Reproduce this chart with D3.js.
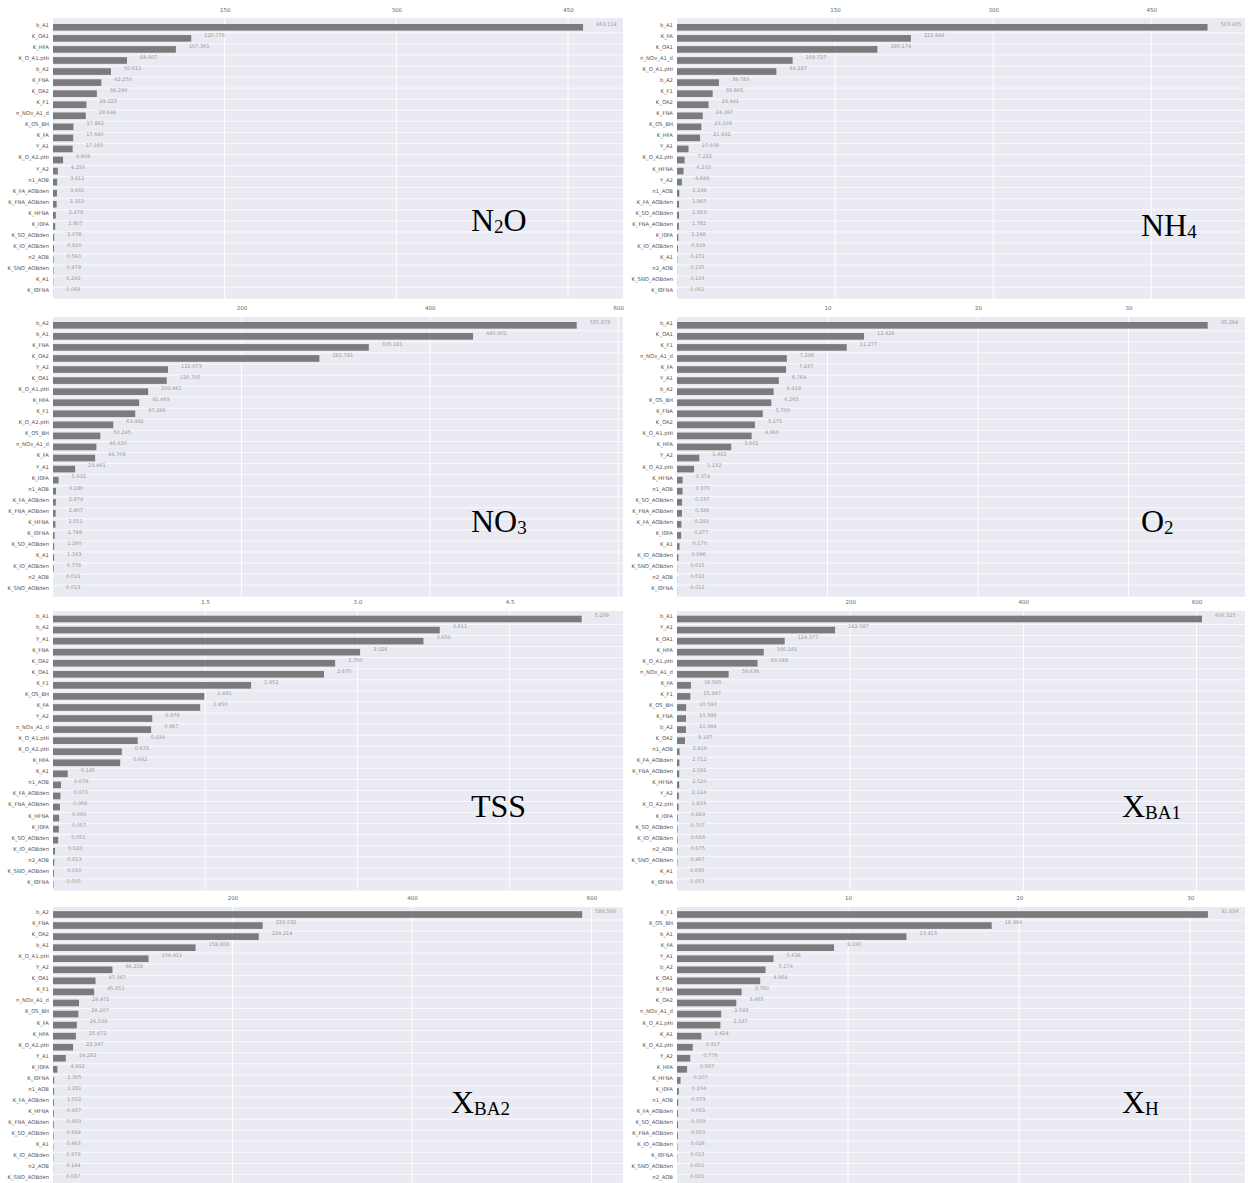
<!DOCTYPE html>
<html>
<head>
<meta charset="utf-8">
<script src="https://cdn.jsdelivr.net/npm/d3@7"></script>
<style>
  html, body { margin: 0; padding: 0; background: #ffffff; }
  svg { display: block; }
</style>
</head>
<body>
<svg id="chart" width="1249" height="1183"></svg>
<script>
// ---- Sensitivity indices per model output (sorted, largest first) ----
const n2oParams = ["b_A1","K_OA1","K_HFA","K_O_A1.pHi","b_A2","K_FNA","K_OA2","K_F1","n_NOx_A1_d","K_OS_BH","K_FA","Y_A1","K_O_A2.pHi","Y_A2","n1_AOB","K_FA_AOBden","K_FNA_AOBden","K_HFNA","K_I0FA","K_SO_AOBden","K_IO_AOBden","n2_AOB","K_SNO_AOBden","K_A1","K_I0FNA"];
const n2oValues = [463.114,120.776,107.361,64.607,50.611,42.250,38.290,29.223,28.644,17.862,17.640,17.160,8.808,4.250,3.611,3.431,3.163,2.478,1.907,1.078,0.920,0.560,0.479,0.292,0.068];
const n2oTicks = [150, 300, 450];

const nh4Params = ["b_A1","K_FA","K_OA1","n_NOx_A1_d","K_O_A1.pHi","b_A2","K_F1","K_OA2","K_FNA","K_OS_BH","K_HFA","Y_A1","K_O_A2.pHi","K_HFNA","Y_A2","n1_AOB","K_FA_AOBden","K_SO_AOBden","K_FNA_AOBden","K_I0FA","K_IO_AOBden","K_A1","n2_AOB","K_SNO_AOBden","K_I0FNA"];
const nh4Values = [503.435,221.944,190.174,109.727,94.297,39.783,33.865,29.941,24.397,23.109,21.932,10.939,7.222,6.233,4.649,2.198,1.965,1.953,1.782,1.248,0.919,0.272,0.135,0.133,0.061];
const nh4Ticks = [150, 300, 450];

const no3Params = ["b_A2","b_A1","K_FNA","K_OA2","Y_A2","K_OA1","K_O_A1.pHi","K_HFA","K_F1","K_O_A2.pHi","K_OS_BH","n_NOx_A1_d","K_FA","Y_A1","K_I0FA","n1_AOB","K_FA_AOBden","K_FNA_AOBden","K_HFNA","K_I0FNA","K_SO_AOBden","K_A1","K_IO_AOBden","n2_AOB","K_SNO_AOBden"];
const no3Values = [555.878,445.901,335.181,282.781,122.073,120.705,100.961,91.469,87.296,63.992,50.245,46.020,44.709,23.461,5.932,3.180,2.974,2.807,2.551,1.749,1.260,1.163,0.778,0.019,0.013];
const no3Ticks = [200, 400, 600];

const o2Params = ["b_A1","K_OA1","K_F1","n_NOx_A1_d","K_FA","Y_A1","b_A2","K_OS_BH","K_FNA","K_OA2","K_O_A1.pHi","K_HFA","Y_A2","K_O_A2.pHi","K_HFNA","n1_AOB","K_SO_AOBden","K_FNA_AOBden","K_FA_AOBden","K_I0FA","K_A1","K_IO_AOBden","K_SNO_AOBden","n2_AOB","K_I0FNA"];
const o2Values = [35.264,12.428,11.277,7.298,7.247,6.764,6.419,6.265,5.700,5.175,4.960,3.602,1.482,1.132,0.374,0.370,0.337,0.326,0.293,0.277,0.170,0.096,0.015,0.013,0.012];
const o2Ticks = [10, 20, 30];

const tssParams = ["b_A1","b_A2","Y_A1","K_FNA","K_OA2","K_OA1","K_F1","K_OS_BH","K_FA","Y_A2","n_NOx_A1_d","K_O_A1.pHi","K_O_A2.pHi","K_HFA","K_A1","n1_AOB","K_FA_AOBden","K_FNA_AOBden","K_HFNA","K_I0FA","K_SO_AOBden","K_IO_AOBden","n2_AOB","K_SNO_AOBden","K_I0FNA"];
const tssValues = [5.209,3.811,3.650,3.026,2.780,2.670,1.952,1.491,1.450,0.978,0.967,0.834,0.678,0.662,0.145,0.079,0.073,0.068,0.060,0.057,0.051,0.020,0.013,0.010,0.005];
const tssTicks = [1.5, 3.0, 4.5];

const xba1Params = ["b_A1","Y_A1","K_OA1","K_HFA","K_O_A1.pHi","n_NOx_A1_d","K_FA","K_F1","K_OS_BH","K_FNA","b_A2","K_OA2","n1_AOB","K_FA_AOBden","K_FNA_AOBden","K_HFNA","Y_A2","K_O_A2.pHi","K_I0FA","K_SO_AOBden","K_IO_AOBden","n2_AOB","K_SNO_AOBden","K_A1","K_I0FNA"];
const xba1Values = [606.325,182.587,124.377,100.181,93.048,59.636,16.095,15.387,10.593,10.398,10.344,9.187,2.916,2.712,2.581,2.520,2.124,1.833,0.889,0.707,0.693,0.675,0.467,0.095,0.053];
const xba1Ticks = [200, 400, 600];

const xba2Params = ["b_A2","K_FNA","K_OA2","b_A1","K_O_A1.pHi","Y_A2","K_OA1","K_F1","n_NOx_A1_d","K_OS_BH","K_FA","K_HFA","K_O_A2.pHi","Y_A1","K_I0FA","K_I0FNA","n1_AOB","K_FA_AOBden","K_HFNA","K_FNA_AOBden","K_SO_AOBden","K_A1","K_IO_AOBden","n2_AOB","K_SNO_AOBden"];
const xba2Values = [589.560,233.532,229.214,158.808,106.411,66.218,47.367,45.851,28.972,28.207,26.538,25.472,22.347,14.282,4.932,1.305,1.291,1.032,0.957,0.903,0.694,0.463,0.379,0.144,0.087];
const xba2Ticks = [200, 400, 600];

const xhParams = ["K_F1","K_OS_BH","b_A1","K_FA","Y_A1","b_A2","K_OA1","K_FNA","K_OA2","n_NOx_A1_d","K_O_A1.pHi","K_A1","K_O_A2.pHi","Y_A2","K_HFA","K_HFNA","K_I0FA","n1_AOB","K_FA_AOBden","K_SO_AOBden","K_FNA_AOBden","K_IO_AOBden","K_I0FNA","K_SNO_AOBden","n2_AOB"];
const xhValues = [31.034,18.394,13.413,9.180,5.638,5.174,4.864,3.780,3.465,2.583,2.537,1.424,0.917,0.776,0.587,0.207,0.104,0.073,0.061,0.059,0.053,0.026,0.013,0.001,0.001];
const xhTicks = [10, 20, 30];

// ---- Page layout: 4 rows x 2 columns of small-multiple panels ----
const ROWS = [
  { top: 18,  first: 27.3,  tickY: 12.5 },
  { top: 317, first: 325.3, tickY: 311 },
  { top: 611, first: 619,   tickY: 605 },
  { top: 907, first: 914.5, tickY: 900.5 }
];
const COLS = [
  { left: 53,  right: 623 },
  { left: 677, right: 1245 }
];
const PITCH = 11.06;

const panels = [
  { params: n2oParams,  values: n2oValues,  ticks: n2oTicks,  row: 0, col: 0, xMax: 498,   tickFmt: "d",   title: [["N",""],["2","sub"],["O",""]], tx: 471,  ty: 231 },
  { params: nh4Params,  values: nh4Values,  ticks: nh4Ticks,  row: 0, col: 1, xMax: 539,   tickFmt: "d",   title: [["NH",""],["4","sub"]],         tx: 1141, ty: 236 },
  { params: no3Params,  values: no3Values,  ticks: no3Ticks,  row: 1, col: 0, xMax: 605,   tickFmt: "d",   title: [["NO",""],["3","sub"]],         tx: 471,  ty: 532 },
  { params: o2Params,   values: o2Values,   ticks: o2Ticks,   row: 1, col: 1, xMax: 37.74, tickFmt: "d",   title: [["O",""],["2","sub"]],          tx: 1141, ty: 532 },
  { params: tssParams,  values: tssValues,  ticks: tssTicks,  row: 2, col: 0, xMax: 5.616, tickFmt: ".1f", title: [["TSS",""]],                   tx: 471,  ty: 817 },
  { params: xba1Params, values: xba1Values, ticks: xba1Ticks, row: 2, col: 1, xMax: 656,   tickFmt: "d",   title: [["X",""],["BA1","sub"]],        tx: 1122, ty: 817 },
  { params: xba2Params, values: xba2Values, ticks: xba2Ticks, row: 3, col: 0, xMax: 635,   tickFmt: "d",   title: [["X",""],["BA2","sub"]],        tx: 451,  ty: 1113 },
  { params: xhParams,   values: xhValues,   ticks: xhTicks,   row: 3, col: 1, xMax: 33.2,  tickFmt: "d",   title: [["X",""],["H","sub"]],          tx: 1122, ty: 1113 }
];

const svg = d3.select("#chart");
const valueFmt = d3.format(".3f");

panels.forEach(p => {
  const r = ROWS[p.row], c = COLS[p.col];
  const n = p.params.length;
  const bandTop = r.first - PITCH / 2;
  const bandBottom = bandTop + n * PITCH;
  const bgBottom = bandBottom + 0.5;

  const x = d3.scaleLinear().domain([0, p.xMax]).range([c.left, c.right]);
  const y = d3.scaleBand().domain(p.params).range([bandTop, bandBottom]).paddingInner(0.4).paddingOuter(0.2);
  const data = p.params.map((k, i) => ({ k, v: p.values[i] }));

  const g = svg.append("g");

  // plot background
  g.append("rect")
    .attr("x", c.left).attr("y", r.top)
    .attr("width", c.right - c.left).attr("height", bgBottom - r.top)
    .attr("fill", "#eaeaf2");

  // row separators
  g.append("g").selectAll("line")
    .data(p.params.slice(1))
    .join("line")
    .attr("x1", c.left).attr("x2", c.right)
    .attr("y1", d => y(d) - y.step() * y.paddingInner() / 2)
    .attr("y2", d => y(d) - y.step() * y.paddingInner() / 2)
    .attr("stroke", "#ffffff").attr("stroke-width", 0.8);

  // vertical grid at ticks
  g.append("g").selectAll("line")
    .data(p.ticks)
    .join("line")
    .attr("x1", d => x(d)).attr("x2", d => x(d))
    .attr("y1", r.top).attr("y2", bgBottom)
    .attr("stroke", "#ffffff").attr("stroke-width", 1);

  // top axis labels
  const axis = d3.axisTop(x).tickValues(p.ticks).tickSize(0).tickFormat(d3.format(p.tickFmt));
  const ax = g.append("g").attr("transform", `translate(0,${r.tickY + 2})`).call(axis);
  ax.select(".domain").remove();
  ax.selectAll("text")
    .attr("font-family", "DejaVu Sans, sans-serif")
    .attr("font-size", 5.5)
    .attr("fill", "#666")
    .attr("dy", 0);

  // bars
  g.append("g").selectAll("rect")
    .data(data)
    .join("rect")
    .attr("x", x(0))
    .attr("y", d => y(d.k))
    .attr("width", d => Math.max(0, x(d.v) - x(0)))
    .attr("height", y.bandwidth())
    .attr("fill", "#7b7b7e");

  // value labels
  g.append("g").selectAll("text")
    .data(data)
    .join("text")
    .attr("x", d => x(d.v) + 13)
    .attr("y", d => y(d.k) + y.bandwidth() / 2 - 3)
    .attr("dominant-baseline", "middle")
    .attr("font-family", "DejaVu Sans, sans-serif")
    .attr("font-size", 5)
    .attr("fill", "#9a9a9a")
    .text(d => valueFmt(d.v));

  // parameter names
  g.append("g").selectAll("text")
    .data(data)
    .join("text")
    .attr("x", c.left - 4)
    .attr("y", d => y(d.k) + y.bandwidth() / 2 - 2)
    .attr("text-anchor", "end")
    .attr("dominant-baseline", "middle")
    .attr("font-family", "DejaVu Sans, sans-serif")
    .attr("font-size", 5.3)
    .attr("fill", "#555")
    .text(d => d.k);

  // output name (chemical / biomass symbol with subscript)
  const t = g.append("text")
    .attr("x", p.tx).attr("y", p.ty)
    .attr("font-family", "Liberation Serif, Times New Roman, serif")
    .attr("font-size", 32)
    .attr("fill", "#000");
  let shifted = false;
  p.title.forEach(([s, kind]) => {
    const ts = t.append("tspan").text(s);
    if (kind === "sub") {
      ts.attr("font-size", 19).attr("dy", shifted ? 0 : 2);
      shifted = true;
    } else {
      ts.attr("font-size", 32).attr("dy", shifted ? -2 : 0);
      shifted = false;
    }
  });
});
</script>
</body>
</html>
